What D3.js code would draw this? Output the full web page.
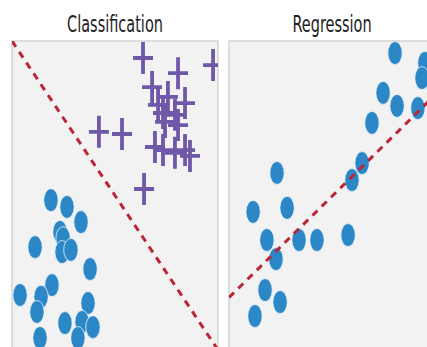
<!DOCTYPE html>
<html>
<head>
<meta charset="utf-8">
<script src="https://cdn.jsdelivr.net/npm/d3@7"></script>
<style>
  body { margin: 0; background: #fff; }
  svg { display: block; }
</style>
</head>
<body>
<div id="chart"></div>
<script>
// panel titles
let titles = ['Classification', 'Regression'];

// classification: class A (circles) and class B (crosses), x/y in 0..10
let classAx = [1.89, 2.67, 3.35, 2.33, 2.48, 1.12, 2.43, 2.86, 3.79, 1.94, 0.39, 1.41, 1.21, 3.69, 2.57, 3.40, 3.93, 1.36, 3.20];
let classAy = [4.85, 4.63, 4.14, 3.82, 3.62, 3.33, 3.17, 3.24, 2.62, 2.10, 1.78, 1.72, 1.23, 1.52, 0.87, 0.91, 0.74, 0.39, 0.39];
let classBx = [6.36, 8.06, 9.76, 6.80, 7.57, 8.40, 7.09, 7.33, 7.91, 7.43, 8.06, 4.22, 5.34, 6.94, 7.33, 7.91, 8.40, 8.64, 6.41];
let classBy = [9.45, 8.96, 9.22, 8.51, 8.19, 7.99, 7.93, 7.67, 7.61, 7.38, 7.28, 7.06, 6.99, 6.57, 6.47, 6.38, 6.47, 6.28, 5.21];
// decision boundary endpoints
let boundaryX = [0, 10];
let boundaryY = [10, 0];

// regression points
let regX = [8.06, 9.51, 9.37, 7.48, 8.16, 9.17, 6.94, 6.46, 5.97, 2.33, 1.17, 2.82, 1.84, 3.40, 4.27, 5.78, 2.28, 1.75, 2.48, 1.26];
let regY = [9.61, 9.29, 8.80, 8.32, 7.90, 7.83, 7.35, 6.05, 5.50, 5.73, 4.47, 4.60, 3.56, 3.56, 3.56, 3.72, 2.94, 1.94, 1.55, 1.10];
// fitted line endpoints
let fitX = [0, 10];
let fitY = [1.7, 8.25];

let width = 427, height = 347;
let squish = 0.63; // the picture is narrowed horizontally
let blue = '#2b87c6', purple = '#6f58a8', red = '#bb2535';

let svg = d3.select('#chart').append('svg')
  .attr('width', width)
  .attr('height', height);

let panels = [
  { left: 12, top: 41, w: 206, h: 320 },
  { left: 229, top: 41, w: 206, h: 320 }
];

// clip so the right panel is cut by the window like the picture
svg.append('defs').selectAll('clipPath')
  .data(panels).enter()
  .append('clipPath')
  .attr('id', function(d, i) { return 'clip' + i; })
  .append('rect')
  .attr('x', function(d) { return d.left; })
  .attr('y', function(d) { return d.top; })
  .attr('width', function(d) { return d.w; })
  .attr('height', function(d) { return d.h; });

panels.forEach(function(p, i) {
  p.x = d3.scaleLinear().domain([0, 10]).range([p.left, p.left + p.w]);
  p.y = d3.scaleLinear().domain([0, 10]).range([p.top + 309, p.top]);

  svg.append('rect')
    .attr('x', p.left)
    .attr('y', p.top)
    .attr('width', p.w)
    .attr('height', p.h)
    .attr('fill', '#f2f2f2')
    .attr('stroke', '#d4d4d4')
    .attr('stroke-width', 1.5);

  svg.append('text')
    .attr('transform', 'translate(' + (p.left + p.w / 2) + ',32) scale(' + squish + ',1)')
    .attr('text-anchor', 'middle')
    .attr('font-family', 'DejaVu Sans')
    .attr('font-size', 23)
    .attr('fill', '#1e1e1e')
    .text(titles[i]);

  p.g = svg.append('g').attr('clip-path', 'url(#clip' + i + ')');
});

let line = d3.line();

function drawDots(g, p, xs, ys) {
  g.selectAll('ellipse.dot')
    .data(xs).enter()
    .append('ellipse')
    .attr('class', 'dot')
    .attr('cx', function(d) { return p.x(d); })
    .attr('cy', function(d, i) { return p.y(ys[i]); })
    .attr('rx', 7.2)
    .attr('ry', 11.5)
    .attr('fill', blue)
    .attr('stroke', '#eef4fa')
    .attr('stroke-width', 0.8);
}

function drawDashed(g, p, xs, ys) {
  g.append('path')
    .attr('d', line(xs.map(function(d, i) { return [p.x(d), p.y(ys[i])]; })))
    .attr('fill', 'none')
    .attr('stroke', red)
    .attr('stroke-width', 3)
    .attr('stroke-dasharray', '7,6');
}

// Classification
let left = panels[0];
drawDots(left.g, left, classAx, classAy);
left.g.selectAll('path.cross')
  .data(classBx).enter()
  .append('path')
  .attr('class', 'cross')
  .attr('transform', function(d, i) { return 'translate(' + left.x(d) + ',' + left.y(classBy[i]) + ')'; })
  .attr('d', 'M-10,0H10M0,-16V16')
  .attr('stroke', purple)
  .attr('stroke-width', 3.8)
  .attr('fill', 'none');
drawDashed(left.g, left, boundaryX, boundaryY);

// Regression
let right = panels[1];
drawDots(right.g, right, regX, regY);
drawDashed(right.g, right, fitX, fitY);
</script>
</body>
</html>
